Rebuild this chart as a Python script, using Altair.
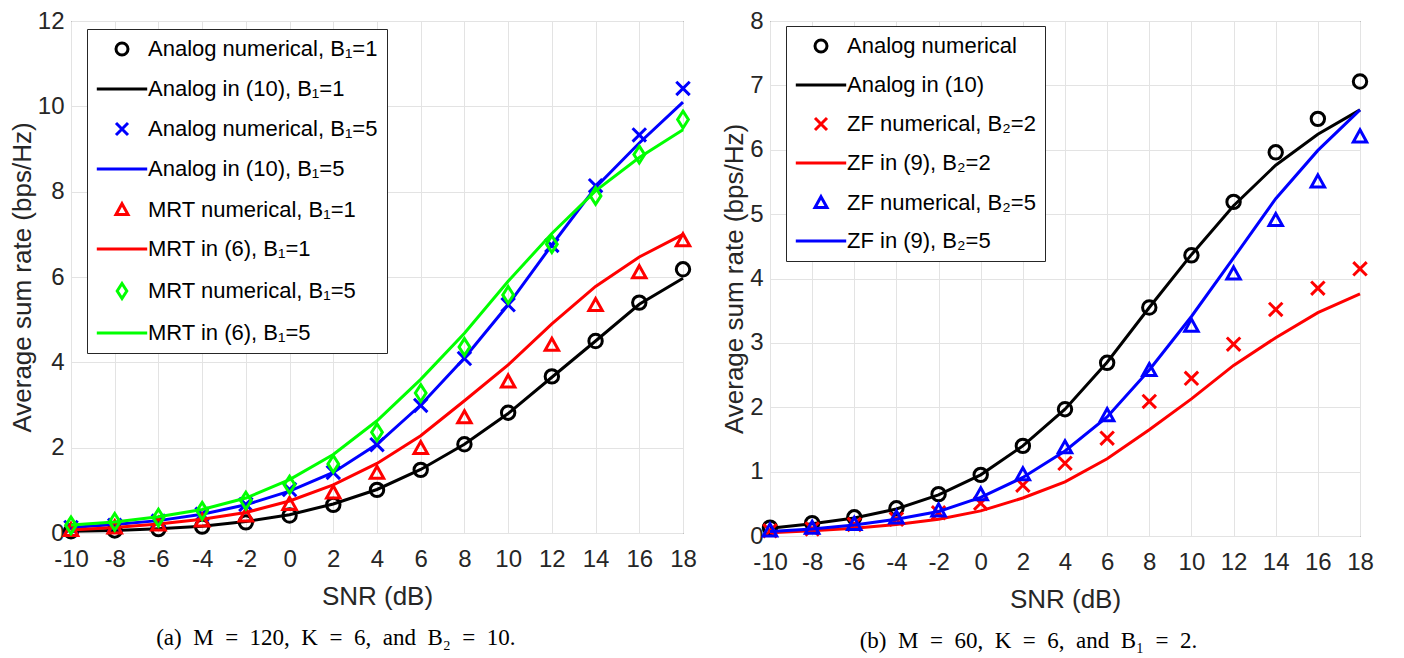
import altair as alt
import pandas as pd

snr = [-10, -8, -6, -4, -2, 0, 2, 4, 6, 8, 10, 12, 14, 16, 18]

# ---- panel (a) ----
a_labels = [
    "Analog numerical, B\u2081=1",
    "Analog in (10), B\u2081=1",
    "Analog numerical, B\u2081=5",
    "Analog in (10), B\u2081=5",
    "MRT numerical, B\u2081=1",
    "MRT in (6), B\u2081=1",
    "MRT numerical, B\u2081=5",
    "MRT in (6), B\u2081=5",
]
a_analog1_num = [0.04, 0.06, 0.09, 0.15, 0.25, 0.41, 0.66, 1.01, 1.48, 2.08, 2.82, 3.67, 4.50, 5.40, 6.18]
a_analog1_eq = [0.04, 0.06, 0.10, 0.16, 0.27, 0.43, 0.68, 1.02, 1.49, 2.08, 2.80, 3.65, 4.50, 5.36, 5.97]
a_analog5_num = [0.13, 0.18, 0.28, 0.44, 0.67, 1.02, 1.42, 2.07, 2.99, 4.09, 5.35, 6.74, 8.14, 9.33, 10.42]
a_analog5_eq = [0.13, 0.20, 0.29, 0.44, 0.66, 0.98, 1.42, 2.08, 3.00, 4.10, 5.35, 6.75, 8.10, 9.14, 10.10]
a_mrt1_num = [0.06, 0.12, 0.19, 0.28, 0.40, 0.67, 0.94, 1.40, 1.98, 2.70, 3.54, 4.40, 5.33, 6.10, 6.85]
a_mrt1_eq = [0.07, 0.13, 0.21, 0.32, 0.48, 0.75, 1.13, 1.63, 2.28, 3.10, 3.94, 4.90, 5.78, 6.47, 7.00]
a_mrt5_num = [0.18, 0.26, 0.36, 0.52, 0.76, 1.13, 1.62, 2.36, 3.28, 4.36, 5.58, 6.77, 7.90, 8.87, 9.69]
a_mrt5_eq = [0.19, 0.26, 0.38, 0.55, 0.82, 1.25, 1.84, 2.63, 3.60, 4.68, 5.90, 7.02, 8.02, 8.80, 9.45]
a_values = [a_analog1_num, a_analog1_eq, a_analog5_num, a_analog5_eq,
            a_mrt1_num, a_mrt1_eq, a_mrt5_num, a_mrt5_eq]
a_kinds = ["point", "line", "point", "line", "point", "line", "point", "line"]
a_colors = ["#000000", "#000000", "#0000ff", "#0000ff", "#ff0000", "#ff0000", "#00ff00", "#00ff00"]

# ---- panel (b) ----
b_labels = [
    "Analog numerical",
    "Analog in (10)",
    "ZF numerical, B\u2082=2",
    "ZF in (9), B\u2082=2",
    "ZF numerical, B\u2082=5",
    "ZF in (9), B\u2082=5",
]
b_analog_num = [0.13, 0.20, 0.29, 0.43, 0.65, 0.95, 1.40, 1.97, 2.69, 3.55, 4.36, 5.19, 5.96, 6.48, 7.06]
b_analog_eq = [0.12, 0.19, 0.28, 0.42, 0.64, 0.95, 1.40, 1.97, 2.70, 3.55, 4.37, 5.13, 5.76, 6.24, 6.62]
b_zf2_num = [0.08, 0.11, 0.18, 0.26, 0.36, 0.51, 0.79, 1.13, 1.52, 2.09, 2.45, 2.98, 3.52, 3.85, 4.15]
b_zf2_eq = [0.05, 0.08, 0.12, 0.18, 0.26, 0.39, 0.59, 0.84, 1.20, 1.65, 2.13, 2.65, 3.08, 3.47, 3.76]
b_zf5_num = [0.08, 0.12, 0.18, 0.28, 0.39, 0.64, 0.95, 1.37, 1.87, 2.57, 3.26, 4.07, 4.90, 5.50, 6.20]
b_zf5_eq = [0.07, 0.11, 0.17, 0.26, 0.38, 0.60, 0.91, 1.32, 1.85, 2.58, 3.41, 4.32, 5.24, 5.99, 6.62]
b_values = [b_analog_num, b_analog_eq, b_zf2_num, b_zf2_eq, b_zf5_num, b_zf5_eq]
b_kinds = ["point", "line", "point", "line", "point", "line"]
b_colors = ["#000000", "#000000", "#ff0000", "#ff0000", "#0000ff", "#0000ff"]

CIRCLE = "circle"
XMARK = "M-1,-1L1,1M1,-1L-1,1"
TRI = "M0,-1.05L1.0,0.75L-1.0,0.75Z"
DIAM = "M0,-1.25L0.8,0L0,1.25L-0.8,0Z"
LINE = "M-4.2,0L4.2,0"

a_shapes = [CIRCLE, LINE, XMARK, LINE, TRI, LINE, DIAM, LINE]
b_shapes = [CIRCLE, LINE, XMARK, LINE, TRI, LINE]

FONT = "Liberation Sans"
AX = dict(labelFont=FONT, labelFontSize=24, labelColor="#262626",
          titleFont=FONT, titleFontSize=26, titleFontWeight="normal",
          titleColor="#262626", gridColor="#e3e3e3",
          domain=False, ticks=False, labelFlush=False, labelOverlap=False,
          labelExpr="'' + datum.value")

SP = "\u2002"  # en space (not collapsed)


def cap(s):
    return s.replace(" = ", SP + "=" + SP).replace(" ", SP)


def panel(labels, values, kinds, colors, shapes, ymax, ystep, width, height,
          caption, leg_y, row_pad, cap_dx):
    rows = []
    for lab, vals in zip(labels, values):
        for s, v in zip(snr, vals):
            rows.append({"snr": s, "rate": v, "series": lab})
    df = pd.DataFrame(rows)

    legend = alt.Legend(
        title=None, orient="none", legendX=16, legendY=leg_y,
        padding=9, symbolOffset=15, labelOffset=15,
        labelFont=FONT, labelFontSize=22, labelColor="#000000", labelLimit=0,
        symbolSize=144, symbolStrokeWidth=3, symbolFillColor="transparent",
        rowPadding=row_pad, strokeColor="#262626", fillColor="white",
    )
    color = alt.Color("series:N", scale=alt.Scale(domain=labels, range=colors),
                      legend=legend)
    shape = alt.Shape("series:N", scale=alt.Scale(domain=labels, range=shapes),
                      legend=legend)
    yticks = [i * ystep for i in range(int(round(ymax / ystep)) + 1)]
    x = alt.X("snr:Q", scale=alt.Scale(domain=[-10, 18], nice=False, zero=False),
              axis=alt.Axis(values=snr, title="SNR (dB)", labelPadding=14,
                            titlePadding=12, **AX))
    y = alt.Y("rate:Q", scale=alt.Scale(domain=[0, ymax], nice=False),
              axis=alt.Axis(values=yticks, title="Average sum rate (bps/Hz)",
                            labelPadding=7, titlePadding=2, **AX))
    base = alt.Chart(df)
    layers = []
    for lab, kind in zip(labels, kinds):
        b = base.transform_filter(alt.datum.series == lab)
        if kind == "point":
            layers.append(b.mark_point(filled=False, size=180, strokeWidth=3, opacity=1)
                          .encode(x=x, y=y, color=color, shape=shape))
        else:
            layers.append(b.mark_line(strokeWidth=3).encode(x=x, y=y, color=color))
    return alt.layer(*layers).properties(
        width=width, height=height,
        title=alt.Title(cap(caption), orient="bottom", anchor="middle", frame="bounds",
                        font="Liberation Serif", fontSize=23, fontWeight="normal",
                        color="#000000", offset=18, dx=cap_dx),
    )


left = panel(a_labels, a_values, a_kinds, a_colors, a_shapes, 12, 2, 612, 512,
             "(a) M = 120, K = 6, and B\u2082 = 10.", 8, 17, -17)
right = panel(b_labels, b_values, b_kinds, b_colors, b_shapes, 8, 1, 590, 515,
              "(b) M = 60, K = 6, and B\u2081 = 2.", 5, 16, -19)

chart = (
    alt.hconcat(left, right, spacing=24)
    .resolve_scale(color="independent", shape="independent", x="independent", y="independent")
    .resolve_legend(color="independent", shape="independent")
    .properties(padding={"left": 0, "top": 0, "right": 5, "bottom": 0},
                background="white")
    .configure_view(stroke="#262626", strokeWidth=1)
    .configure_axis(grid=True, gridWidth=1)
)

chart.save("out.html", embed_options={"renderer": "svg", "actions": False})
